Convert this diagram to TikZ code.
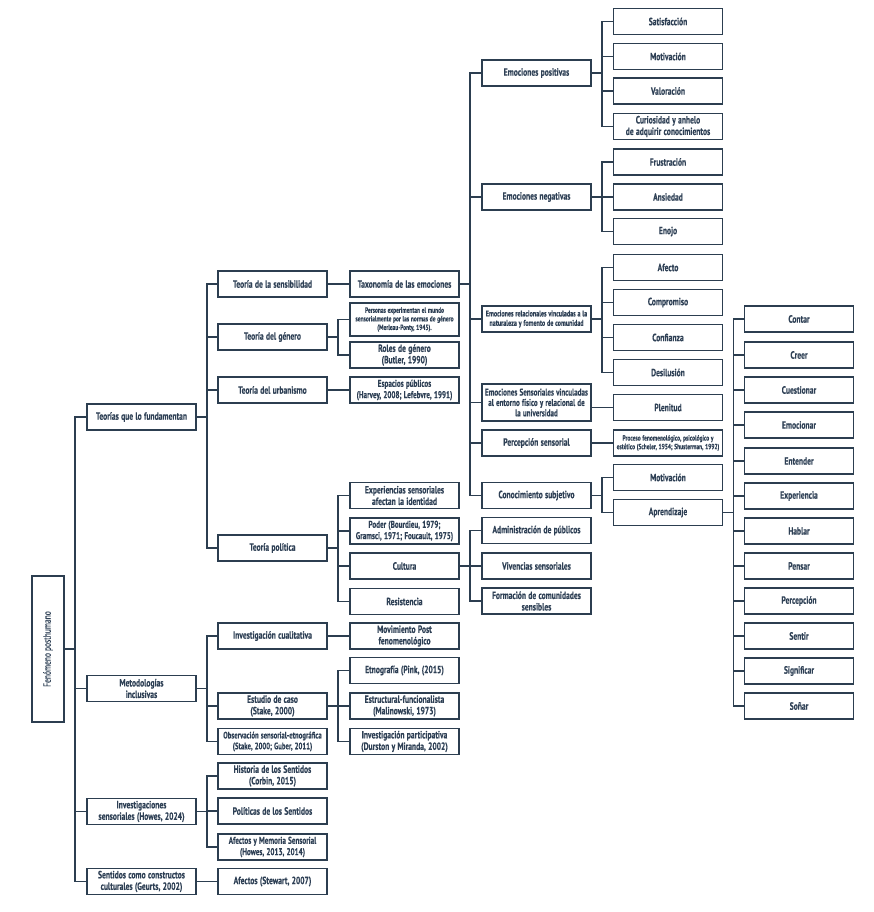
\documentclass[tikz,border=0pt]{standalone}
\usepackage{fontspec}
\setmainfont{PT Sans}[FakeStretch=0.72, FakeBold=0.25]
\definecolor{ln}{HTML}{2C3E50}
\definecolor{tx}{HTML}{2E4055}
\newcommand\fsz[2]{\fontsize{#1}{#2}\selectfont\bfseries\spaceskip=0.22em plus 0.1em minus 0.05em\relax}
\begin{document}
\begin{tikzpicture}[x=1pt,y=-1pt,
  bx/.style={draw=ln, line width=1.8pt, minimum width=109pt, minimum height=26pt,
    align=center, inner sep=1pt, text=tx, font=\fsz{10.5}{11.5}},
  nb/.style={font=\fsz{9.9}{11.3}},
  sm/.style={font=\fsz{8.4}{9.4}},
  xs/.style={font=\fsz{7.6}{8.6}},
  conn/.style={draw=ln, line width=1.8pt}]
\useasboundingbox (0,0) rectangle (873,912);
\newcommand\lnk[2]{\draw[conn] (#1.east) -- ++(10,0) |- (#2.west);}

% root
\node[draw=ln, line width=1.8pt, minimum width=32pt, minimum height=146pt, inner sep=0pt, text=tx]
  (root) at (48,649) {\rotatebox{90}{\fontsize{10.4}{11}\selectfont Fenómeno posthumano}};

% level 1
\node[bx] (a1) at (141.5,417) {Teorías que lo fundamentan};
\node[bx] (a2) at (141.5,688.5) {Metodologías\\inclusivas};
\node[bx] (a3) at (141.5,811.5) {Investigaciones\\sensoriales (Howes, 2024)};
\node[bx] (a4) at (141.5,881.5) {Sentidos como constructos\\culturales (Geurts, 2002)};

% level 2
\node[bx] (b1) at (272.5,284) {Teoría de la sensibilidad};
\node[bx] (b2) at (272.5,337) {Teoría del género};
\node[bx] (b3) at (272.5,390) {Teoría del urbanismo};
\node[bx] (b4) at (272.5,548) {Teoría política};
\node[bx] (b5) at (272.5,636) {Investigación cualitativa};
\node[bx] (b6) at (272.5,706) {Estudio de caso\\(Stake, 2000)};
\node[bx,font=\fsz{9.4}{10.8}] (b7) at (272.5,741.5) {Observación sensorial-etnográfica\\(Stake, 2000; Guber, 2011)};
\node[bx] (b8) at (272.5,776) {Historia de los Sentidos\\(Corbin, 2015)};
\node[bx] (b9) at (272.5,811) {Políticas de los Sentidos};
\node[bx,nb] (b10) at (272.5,847) {Afectos y Memoria Sensorial\\(Howes, 2013, 2014)};
\node[bx] (b11) at (272.5,881.5) {Afectos (Stewart, 2007)};

% level 3
\node[bx] (c1) at (404.5,284) {Taxonomía de las emociones};
\node[bx,xs,minimum height=33pt] (c2) at (404.5,319.5) {Personas experimentan el mundo\\sensorialmente por las normas de género\\(Merleau-Ponty, 1945).};
\node[bx] (c3) at (404.5,355) {Roles de género\\(Butler, 1990)};
\node[bx,nb] (c4) at (404.5,390) {Espacios públicos\\(Harvey, 2008; Lefebvre, 1991)};
\node[bx] (c5) at (404.5,495.5) {Experiencias sensoriales\\afectan la identidad};
\node[bx,nb] (c6) at (404.5,531) {Poder (Bourdieu, 1979;\\Gramsci, 1971; Foucault, 1975)};
\node[bx] (c7) at (404.5,566) {Cultura};
\node[bx] (c8) at (404.5,601.5) {Resistencia};
\node[bx] (c9) at (404.5,636) {Movimiento Post\\fenomenológico};
\node[bx] (c10) at (404.5,670.5) {Etnografía (Pink, (2015)};
\node[bx] (c11) at (404.5,706) {Estructural-funcionalista\\(Malinowski, 1973)};
\node[bx] (c12) at (404.5,741.5) {Investigación participativa\\(Durston y Miranda, 2002)};

% level 4
\node[bx] (d1) at (536.5,73) {Emociones positivas};
\node[bx] (d2) at (536.5,197) {Emociones negativas};
\node[bx,sm] (d3) at (536.5,319) {Emociones relacionales vinculadas a la\\naturaleza y fomento de comunidad};
\node[bx,font=\fsz{9.8}{10.4},minimum height=37pt] (d4) at (536.5,402.5) {Emociones Sensoriales vinculadas\\al entorno físico y relacional de\\la universidad};
\node[bx] (d5) at (536.5,443) {Percepción sensorial};
\node[bx] (d6) at (536.5,495.5) {Conocimiento subjetivo};
\node[bx] (d7) at (536.5,530.5) {Administración de públicos};
\node[bx] (d8) at (536.5,566) {Vivencias sensoriales};
\node[bx] (d9) at (536.5,601) {Formación de comunidades\\sensibles};

% level 5
\node[bx] (e1) at (668,21.5) {Satisfacción};
\node[bx] (e2) at (668,56.5) {Motivación};
\node[bx] (e3) at (668,91) {Valoración};
\node[bx] (e4) at (668,126.5) {Curiosidad y anhelo\\de adquirir conocimientos};
\node[bx] (e5) at (668,162) {Frustración};
\node[bx] (e6) at (668,197) {Ansiedad};
\node[bx] (e7) at (668,231.5) {Enojo};
\node[bx] (e8) at (668,267.5) {Afecto};
\node[bx] (e9) at (668,302.5) {Compromiso};
\node[bx] (e10) at (668,337.5) {Confianza};
\node[bx] (e11) at (668,372.5) {Desilusión};
\node[bx] (e12) at (668,407.5) {Plenitud};
\node[bx,xs] (e13) at (668,443) {Proceso fenomenológico, psicológico y\\estético (Scheler, 1954; Shusterman, 1992)};
\node[bx] (e14) at (668,477.5) {Motivación};
\node[bx] (e15) at (668,512.5) {Aprendizaje};

% level 6
\node[bx] (f1) at (799,319) {Contar};
\node[bx] (f2) at (799,355) {Creer};
\node[bx] (f3) at (799,390) {Cuestionar};
\node[bx] (f4) at (799,425) {Emocionar};
\node[bx] (f5) at (799,461) {Entender};
\node[bx] (f6) at (799,496) {Experiencia};
\node[bx] (f7) at (799,531) {Hablar};
\node[bx] (f8) at (799,566) {Pensar};
\node[bx] (f9) at (799,601) {Percepción};
\node[bx] (f10) at (799,636) {Sentir};
\node[bx] (f11) at (799,671) {Significar};
\node[bx] (f12) at (799,706) {Soñar};

% connectors
\foreach \c in {a1,a2,a3,a4} {\lnk{root}{\c}}
\foreach \c in {b1,b2,b3,b4} {\lnk{a1}{\c}}
\foreach \c in {b5,b6,b7} {\lnk{a2}{\c}}
\foreach \c in {b8,b9,b10} {\lnk{a3}{\c}}
\lnk{a4}{b11}
\lnk{b1}{c1}
\foreach \c in {c2,c3} {\lnk{b2}{\c}}
\lnk{b3}{c4}
\foreach \c in {c5,c6,c7,c8} {\lnk{b4}{\c}}
\lnk{b5}{c9}
\foreach \c in {c10,c11,c12} {\lnk{b6}{\c}}
\foreach \c in {d1,d2,d3,d4,d5,d6} {\lnk{c1}{\c}}
\foreach \c in {d7,d8,d9} {\lnk{c7}{\c}}
\foreach \c in {e1,e2,e3,e4} {\lnk{d1}{\c}}
\foreach \c in {e5,e6,e7} {\lnk{d2}{\c}}
\foreach \c in {e8,e9,e10,e11} {\lnk{d3}{\c}}
\draw[conn] (e12.west) -- (e12.west -| d4.east);
\lnk{d5}{e13}
\foreach \c in {e14,e15} {\lnk{d6}{\c}}
\foreach \c in {f1,f2,f3,f4,f5,f6,f7,f8,f9,f10,f11,f12} {\lnk{e15}{\c}}
\end{tikzpicture}
\end{document}
